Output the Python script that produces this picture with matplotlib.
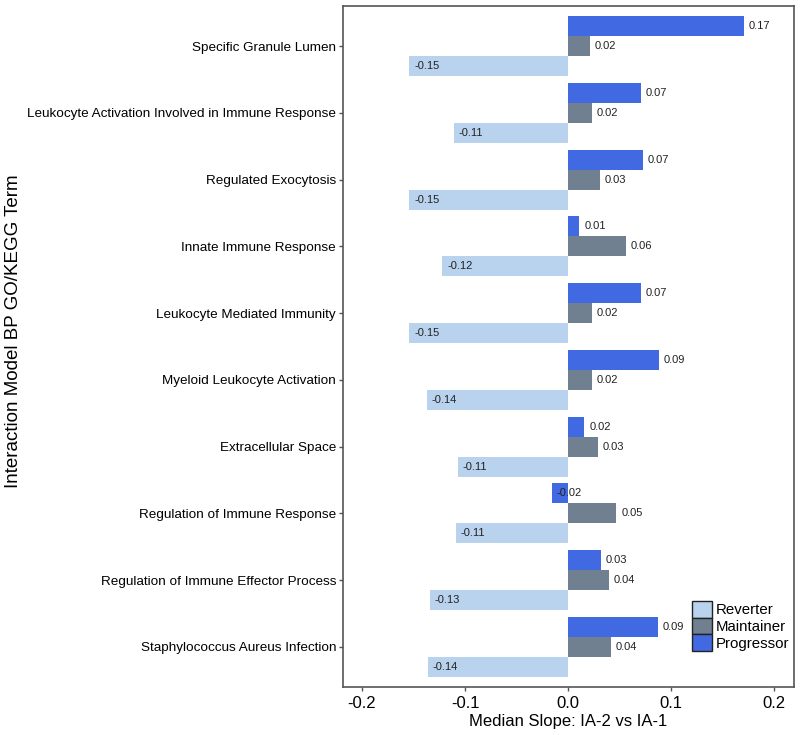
import numpy as np
import matplotlib
matplotlib.use("Agg")
import matplotlib.pyplot as plt
from matplotlib.patches import Patch

plt.rcParams['font.family'] = ['Liberation Sans', 'DejaVu Sans']

terms = [
    "Specific Granule Lumen",
    "Leukocyte Activation Involved in Immune Response",
    "Regulated Exocytosis",
    "Innate Immune Response",
    "Leukocyte Mediated Immunity",
    "Myeloid Leukocyte Activation",
    "Extracellular Space",
    "Regulation of Immune Response",
    "Regulation of Immune Effector Process",
    "Staphylococcus Aureus Infection",
]
progressor = [0.171, 0.071, 0.073, 0.011, 0.071, 0.088, 0.016, -0.016, 0.032, 0.087]
maintainer = [0.021, 0.023, 0.031, 0.056, 0.023, 0.023, 0.029, 0.047, 0.040, 0.042]
reverter = [-0.154, -0.111, -0.154, -0.122, -0.154, -0.137, -0.107, -0.109, -0.134, -0.136]

groups = ["Reverter", "Maintainer", "Progressor"]
colors = {"Reverter": "#B9D3EE", "Maintainer": "#708090", "Progressor": "#4169E1"}
values = {"Reverter": reverter, "Maintainer": maintainer, "Progressor": progressor}
offsets = {"Progressor": -0.3, "Maintainer": 0.0, "Reverter": 0.3}

fig = plt.figure(figsize=(8, 7.35), dpi=100)
ax = fig.add_axes([343 / 800, 1 - 687 / 735, (794 - 343) / 800, (687 - 6) / 735])

y = np.arange(len(terms))
for g in groups:
    v = np.array(values[g])
    ax.barh(y + offsets[g], v, height=0.3, color=colors[g], edgecolor='none')
    for yi, vi in zip(y, v):
        ax.annotate(f"{vi:.2f}", (vi, yi + offsets[g]), xytext=(3.5, 0),
                    textcoords='offset points', ha='left', va='center',
                    fontsize=8, color='#222222')

ax.set_ylim(len(terms) - 0.4, -0.6)
ax.set_xlim(-0.2185, 0.2195)
ax.set_yticks(y)
ax.set_yticklabels(terms, fontsize=9.7)
ax.set_xticks([-0.2, -0.1, 0.0, 0.1, 0.2])
ax.set_xticklabels(["-0.2", "-0.1", "0.0", "0.1", "0.2"], fontsize=12)
ax.tick_params(axis='both', length=3, color='#555555', width=1)
ax.tick_params(axis='y', pad=2)
for s in ax.spines.values():
    s.set_color('#555555')
    s.set_linewidth(1.2)

ax.set_xlabel("Median Slope: IA-2 vs IA-1", fontsize=12, labelpad=2)
ax.set_ylabel("Interaction Model BP GO/KEGG Term", fontsize=13.5)
ax.yaxis.set_label_coords(-0.712, 0.522)

handles = [Patch(facecolor=colors[g], edgecolor='#222222', linewidth=1, label=g) for g in groups]
ax.legend(handles=handles, loc='lower right', bbox_to_anchor=(0.99, 0.053), frameon=False,
          fontsize=10.8, handlelength=1.3, handleheight=1.33, handletextpad=0.27,
          labelspacing=0.0, borderaxespad=0.0, borderpad=0.0)

fig.savefig("out.png", dpi=100)
